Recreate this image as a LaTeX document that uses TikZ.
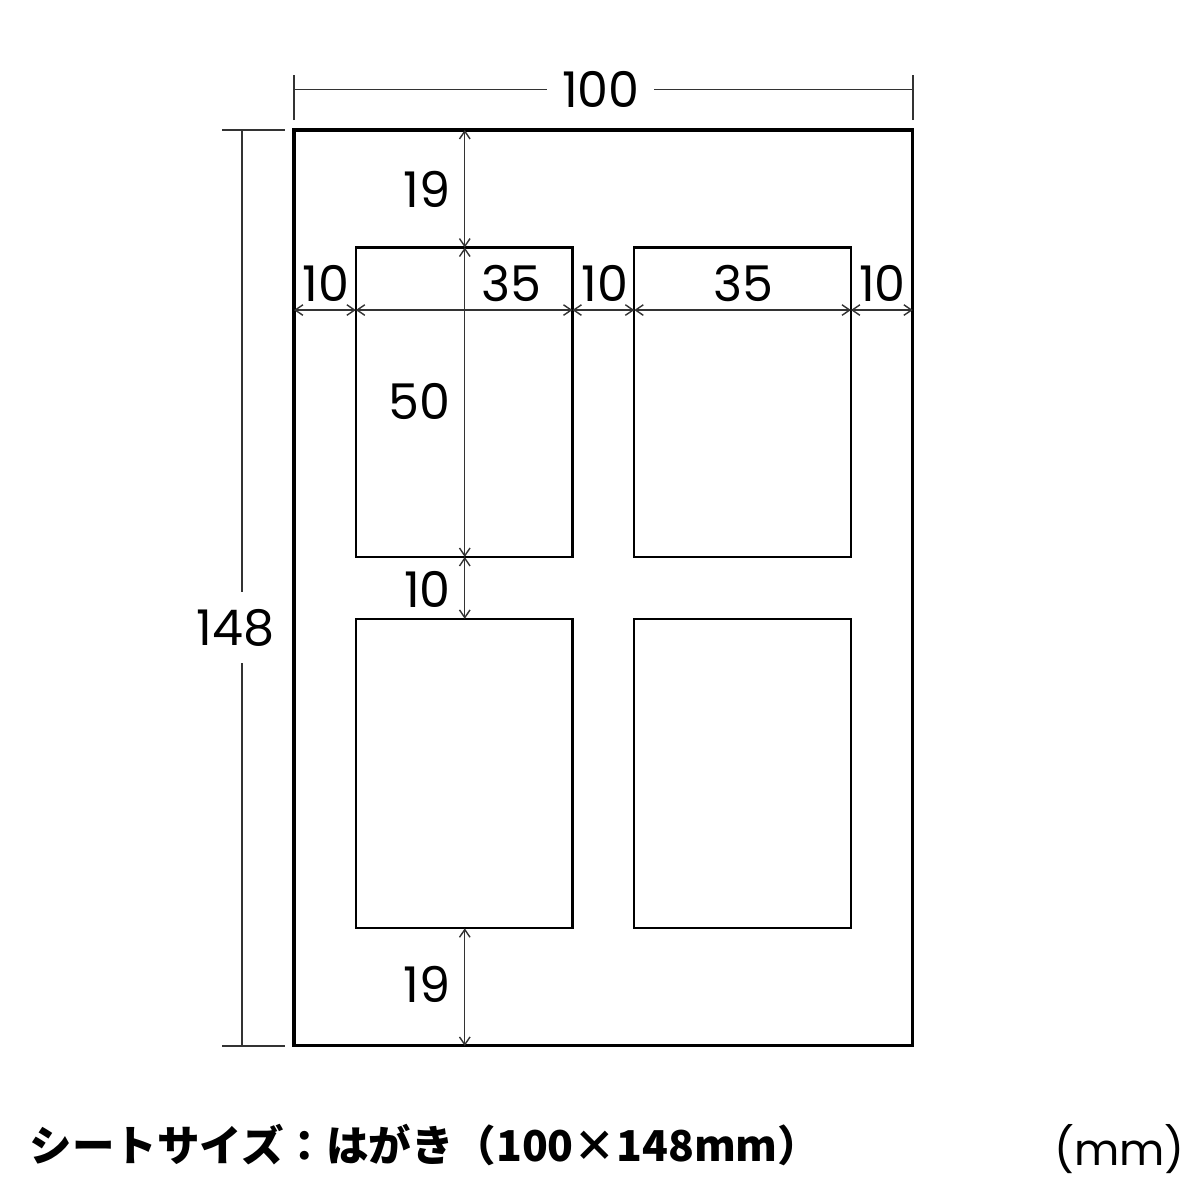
\documentclass[tikz,border=0pt]{standalone}
\usepackage{fontspec}
\setmainfont{Poppins}
\newfontfamily\cjk{Noto Sans CJK JP}
\usetikzlibrary{positioning,arrows.meta,calc}

\begin{document}
\begin{tikzpicture}[x=0.619mm,y=0.619mm,
    sheet/.style={draw=black,line width=0.9pt},
    label box/.style={draw=black,line width=0.65pt},
    dim/.style={draw=black!80,line width=0.4pt},
    dimarrow/.style={dim,{Straight Barb[length=2.2pt,width=3pt]}-{Straight Barb[length=2.2pt,width=3pt]}},
    num/.style={font=\fontsize{14}{16}\selectfont,inner sep=1pt}
  ]
  \useasboundingbox (-47.5,-24.9) rectangle (146.4,169.0);

  % sheet and the four labels
  \draw[sheet] (0,0) rectangle (100,148);
  \draw[label box] (10,79) rectangle (45,129);
  \draw[label box] (55,79) rectangle (90,129);
  \draw[label box] (10,19) rectangle (45,69);
  \draw[label box] (55,19) rectangle (90,69);

  % overall width
  \coordinate (wl) at (0,154.5);
  \coordinate (wr) at (100,154.5);
  \draw[dim] (0,149.6) -- (0,156.9);
  \draw[dim] (100,149.6) -- (100,156.9);
  \node[num,inner xsep=4pt] (w) at (49.6,154.5) {100};
  \draw[dim] (wl) -- (w);
  \draw[dim] (w) -- (wr);

  % overall height
  \coordinate (ht) at (-8.4,148);
  \coordinate (hb) at (-8.4,0);
  \draw[dim] (-11.6,148) -- (-1.5,148);
  \draw[dim] (-11.6,0) -- (-1.5,0);
  \node[num,inner ysep=4.5pt] (h) at (-9.4,67.6) {148};
  \draw[dim] (ht) -- (ht |- h.north);
  \draw[dim] (hb) -- (hb |- h.south);

  % vertical chain
  \coordinate (v0) at (27.6,148);
  \coordinate (v1) at (27.6,129);
  \coordinate (v2) at (27.6,79);
  \coordinate (v3) at (27.6,69);
  \coordinate (v4) at (27.6,19);
  \coordinate (v5) at (27.6,0);
  \draw[dimarrow] (v0) -- (v1);
  \draw[dimarrow] (v1) -- (v2);
  \draw[dimarrow] (v2) -- (v3);
  \draw[dimarrow] (v4) -- (v5);
  \node[num,anchor=east] (t19) at (26.0,138.4) {19};
  \node[num,anchor=east] (t50) at (26.0,104.1) {50};
  \node[num,anchor=east] (t10) at (26.0,73.7) {10};
  \node[num,anchor=east] (b19) at (26.0,10.0) {19};

  % horizontal chain
  \coordinate (c0) at (0,118.9);
  \coordinate (c1) at (10,118.9);
  \coordinate (c2) at (45,118.9);
  \coordinate (c3) at (55,118.9);
  \coordinate (c4) at (90,118.9);
  \coordinate (c5) at (100,118.9);
  \draw[dimarrow] (c0) -- (c1);
  \draw[dimarrow] (c1) -- (c2);
  \draw[dimarrow] (c2) -- (c3);
  \draw[dimarrow] (c3) -- (c4);
  \draw[dimarrow] (c4) -- (c5);
  \node[num] (m1) at (5.2,123.2) {10};
  \node[num] (s1) at (35.2,123.2) {35};
  \node[num] (m2) at (50.3,123.2) {10};
  \node[num] (s2) at (72.6,123.2) {35};
  \node[num] (m3) at (95.1,123.2) {10};

  % captions
  \node[anchor=west,inner sep=0pt,font=\cjk\bfseries\fontsize{12.1}{14}\selectfont] (cap) at (-42.8,-16.1) {シートサイズ：はがき（100×148mm）};
  \node[num,font=\fontsize{12.5}{14}\selectfont] (unit) at (133.4,-16.6) {(mm)};
\end{tikzpicture}
\end{document}
